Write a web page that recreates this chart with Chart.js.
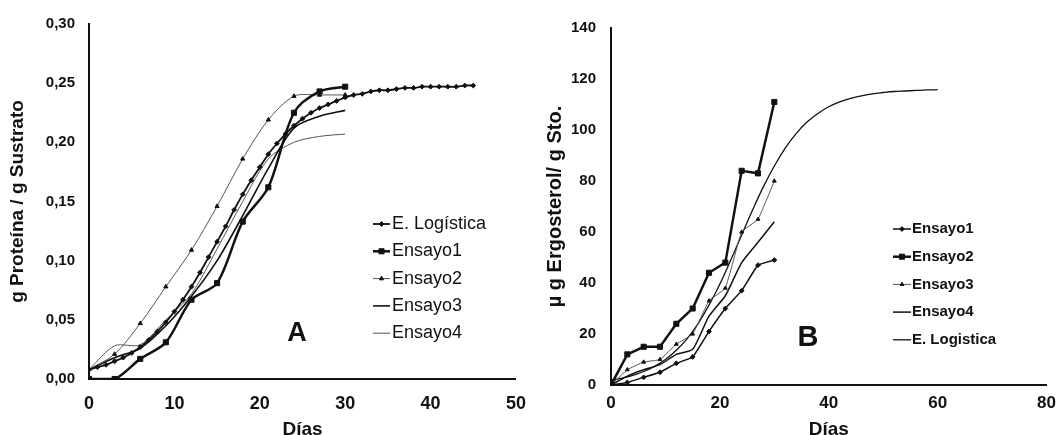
<!DOCTYPE html>
<html>
<head>
<meta charset="utf-8">
<script src="https://cdn.jsdelivr.net/npm/chart.js@4.4.0/dist/chart.umd.min.js"></script>
<style>
  html, body { margin: 0; padding: 0; background: #fff; overflow: hidden; }
  #wrap { position: relative; width: 1064px; height: 435px; overflow: hidden; }
  canvas { position: absolute; top: 0; }
  #chartA { left: 0; }
  #chartB { left: 540px; }
</style>
</head>
<body>
<div id="wrap">
  <canvas id="chartA" width="540" height="450"></canvas>
  <canvas id="chartB" width="524" height="450"></canvas>
</div>
<script>
// ---- panel A : g proteina / g sustrato ----
const diasA = [0, 3, 6, 9, 12, 15, 18, 21, 24, 27, 30];
const ensayo1A = [0.000, 0.000, 0.017, 0.031, 0.067, 0.081, 0.133, 0.162, 0.225, 0.243, 0.247];
const ensayo2A = [0.008, 0.021, 0.047, 0.078, 0.109, 0.146, 0.186, 0.219, 0.239, 0.240, 0.240];
const ensayo3A = [0.008, 0.018, 0.026, 0.045, 0.070, 0.100, 0.138, 0.178, 0.212, 0.222, 0.227];
const ensayo4A = [0.008, 0.028, 0.029, 0.050, 0.072, 0.110, 0.150, 0.186, 0.200, 0.205, 0.207];
const diasLogA = [0, 1, 2, 3, 4, 5, 6, 7, 8, 9, 10, 11, 12, 13, 14, 15, 16, 17, 18, 19, 20, 21, 22,
  23, 24, 25, 26, 27, 28, 29, 30, 31, 32, 33, 34, 35, 36, 37, 38, 39, 40, 41, 42, 43, 44, 45];
const logisticaA = [0.008, 0.010, 0.012, 0.015, 0.018, 0.022, 0.027, 0.033, 0.040, 0.048, 0.057,
  0.067, 0.078, 0.090, 0.103, 0.116, 0.129, 0.143, 0.156, 0.168, 0.179, 0.190, 0.199, 0.207,
  0.214, 0.220, 0.225, 0.229, 0.232, 0.235, 0.238, 0.240, 0.241, 0.243, 0.244, 0.244, 0.245,
  0.246, 0.246, 0.247, 0.247, 0.247, 0.247, 0.247, 0.248, 0.248];
const xTicksA = [0, 10, 20, 30, 40, 50];
const yTicksA = [0, 0.05, 0.1, 0.15, 0.2, 0.25, 0.3];
const yTickLabelsA = ["0,00", "0,05", "0,10", "0,15", "0,20", "0,25", "0,30"];

// ---- panel B : ug ergosterol / g sto ----
const diasB = [0, 3, 6, 9, 12, 15, 18, 21, 24, 27, 30];
const ensayo1B = [0, 1, 3, 5, 8.5, 11, 21, 30, 37, 47, 49];
const ensayo2B = [0, 12, 15, 15, 24, 30, 44, 48, 84, 83, 111];
const ensayo3B = [0, 6, 9, 10, 16, 20, 33, 38, 60, 65, 80];
const ensayo4B = [0, 3.5, 6, 8, 12, 14, 27, 35, 48, 56, 64];
const diasLogB = [0, 2, 4, 6, 8, 10, 12, 14, 16, 18, 20, 22, 24, 26, 28, 30, 32, 34, 36, 38, 40,
  42, 44, 46, 48, 50, 52, 54, 56, 58, 60];
const logisticaB = [1.9, 2.7, 3.8, 5.3, 7.3, 10.0, 13.6, 18.2, 24.1, 31.3, 39.6, 49.0, 58.8,
  68.6, 77.8, 85.9, 92.9, 98.6, 103.1, 106.5, 109.1, 111.0, 112.4, 113.4, 114.2, 114.7, 115.1,
  115.3, 115.5, 115.7, 115.8];
const xTicksB = [0, 20, 40, 60, 80];
const yTicksB = [0, 20, 40, 60, 80, 100, 120, 140];

const FONT = "'Liberation Sans', Arial, sans-serif";
const INK = "#111";
const GREY = "#555";

Chart.defaults.font.family = FONT;
Chart.defaults.color = INK;

function pairs(xs, ys) {
  return xs.map((x, i) => ({ x: x, y: ys[i] }));
}

function series(label, xs, ys, style) {
  return Object.assign({
    label: label,
    data: pairs(xs, ys),
    borderColor: INK,
    backgroundColor: INK,
    pointBackgroundColor: INK,
    pointBorderColor: INK,
    pointBorderWidth: 1,
    borderWidth: 1.5,
    pointRadius: 0,
    pointStyle: "circle",
    tension: 0.3,
    fill: false,
  }, style);
}

// legend (line + marker + name) and the big panel letter
const sideKey = {
  id: "sideKey",
  afterDatasetsDraw(chart, args, opts) {
    const ctx = chart.ctx;
    ctx.save();
    chart.data.datasets.forEach((ds, i) => {
      const y = opts.y + i * opts.step;
      const x0 = opts.x;
      const x1 = opts.x + opts.len;
      ctx.strokeStyle = ds.borderColor;
      ctx.lineWidth = ds.borderWidth;
      ctx.beginPath();
      ctx.moveTo(x0, y);
      ctx.lineTo(x1, y);
      ctx.stroke();
      if (ds.pointRadius > 0) {
        ctx.fillStyle = ds.pointBackgroundColor;
        ctx.strokeStyle = ds.pointBorderColor;
        ctx.lineWidth = 1;
        Chart.helpers.drawPoint(ctx, {
          pointStyle: ds.pointStyle,
          radius: ds.pointRadius,
          rotation: 0,
          borderWidth: 1,
        }, (x0 + x1) / 2, y);
      }
      ctx.fillStyle = INK;
      ctx.font = opts.font;
      ctx.textAlign = "left";
      ctx.textBaseline = "middle";
      ctx.fillText(ds.label, x1 + opts.gap, y);
    });
    ctx.font = opts.letterFont;
    ctx.textAlign = "center";
    ctx.textBaseline = "middle";
    ctx.fillStyle = INK;
    ctx.fillText(opts.letter, opts.letterX, opts.letterY);
    ctx.restore();
  },
};

function axes(cfg) {
  return {
    x: {
      type: "linear",
      min: cfg.xTicks[0],
      max: cfg.xTicks[cfg.xTicks.length - 1],
      afterBuildTicks: (s) => { s.ticks = cfg.xTicks.map((v) => ({ value: v })); },
      afterFit: (s) => { s.height = cfg.xHeight; },
      grid: { display: false, drawTicks: false },
      border: { display: true, color: INK, width: 2 },
      ticks: { padding: cfg.xPad, color: INK, font: { size: cfg.xFont, weight: "bold" }, autoSkip: false, maxRotation: 0 },
      title: {
        display: true, text: "Días", color: INK,
        font: { size: 19, weight: "bold" },
        padding: { top: 0, bottom: 9 },
      },
    },
    y: {
      min: cfg.yTicks[0],
      max: cfg.yTicks[cfg.yTicks.length - 1],
      afterBuildTicks: (s) => { s.ticks = cfg.yTicks.map((v) => ({ value: v })); },
      afterFit: (s) => { s.width = cfg.yWidth; },
      grid: { display: false, drawTicks: false },
      border: { display: true, color: INK, width: 2 },
      ticks: {
        padding: cfg.yPad, color: INK, font: { size: 15, weight: "bold" },
        callback: cfg.yLabel,
      },
      title: {
        display: true, text: cfg.yTitle, color: INK,
        font: { size: cfg.yTitleSize, weight: "bold" },
        padding: { top: cfg.yTitlePad, bottom: 0 },
      },
    },
  };
}

new Chart(document.getElementById("chartA"), {
  type: "line",
  data: {
    datasets: [
      series("E. Logística", diasLogA, logisticaA, { borderWidth: 1.8, pointRadius: 2.4, pointStyle: "rectRot" }),
      series("Ensayo1", diasA, ensayo1A, { borderWidth: 2.5, pointRadius: 3.6, pointStyle: "rect" }),
      series("Ensayo2", diasA, ensayo2A, {
        borderWidth: 1, borderColor: GREY, pointRadius: 2.4, pointStyle: "triangle",
        pointBackgroundColor: INK, pointBorderColor: INK,
      }),
      series("Ensayo3", diasA, ensayo3A, { borderWidth: 1.6 }),
      series("Ensayo4", diasA, ensayo4A, { borderWidth: 1, borderColor: GREY }),
    ],
  },
  options: {
    responsive: false,
    animation: false,
    devicePixelRatio: 1,
    layout: { padding: { left: 0, right: 18, top: 24, bottom: 0 } },
    plugins: {
      legend: { display: false },
      tooltip: { enabled: false },
      sideKey: {
        x: 373, len: 17, gap: 2, y: 224, step: 27.3,
        font: "18px " + FONT,
        letter: "A", letterX: 297, letterY: 334, letterFont: "bold 27px " + FONT,
      },
    },
    scales: axes({
      xTicks: xTicksA, yTicks: yTicksA, xHeight: 71, yWidth: 89,
      xPad: 14, xFont: 18, yPad: 14,
      yLabel: (v, i) => yTickLabelsA[i],
      yTitle: "g Proteína / g Sustrato", yTitleSize: 19, yTitlePad: 6,
    }),
  },
  plugins: [sideKey],
});

new Chart(document.getElementById("chartB"), {
  type: "line",
  data: {
    datasets: [
      series("Ensayo1", diasB, ensayo1B, { borderWidth: 1.5, pointRadius: 2.4, pointStyle: "rectRot", tension: 0.1 }),
      series("Ensayo2", diasB, ensayo2B, { borderWidth: 2.5, pointRadius: 3.6, pointStyle: "rect", tension: 0 }),
      series("Ensayo3", diasB, ensayo3B, {
        borderWidth: 1, borderColor: GREY, pointRadius: 2.2, pointStyle: "triangle", tension: 0.1,
      }),
      series("Ensayo4", diasB, ensayo4B, { borderWidth: 1.5, tension: 0.2 }),
      series("E. Logistica", diasLogB, logisticaB, { borderWidth: 1.3, tension: 0.4 }),
    ],
  },
  options: {
    responsive: false,
    animation: false,
    devicePixelRatio: 1,
    layout: { padding: { left: 0, right: 14, top: 28, bottom: 0 } },
    plugins: {
      legend: { display: false },
      tooltip: { enabled: false },
      sideKey: {
        x: 353, len: 18, gap: 1, y: 229, step: 27.7,
        font: "bold 15px " + FONT,
        letter: "B", letterX: 268, letterY: 338, letterFont: "bold 29px " + FONT,
      },
    },
    scales: axes({
      xTicks: xTicksB, yTicks: yTicksB, xHeight: 65, yWidth: 71,
      xPad: 8, xFont: 17, yPad: 15,
      yLabel: (v) => String(v),
      yTitle: "µ g Ergosterol/ g Sto.", yTitleSize: 20, yTitlePad: 3,
    }),
  },
  plugins: [sideKey],
});
</script>
</body>
</html>
